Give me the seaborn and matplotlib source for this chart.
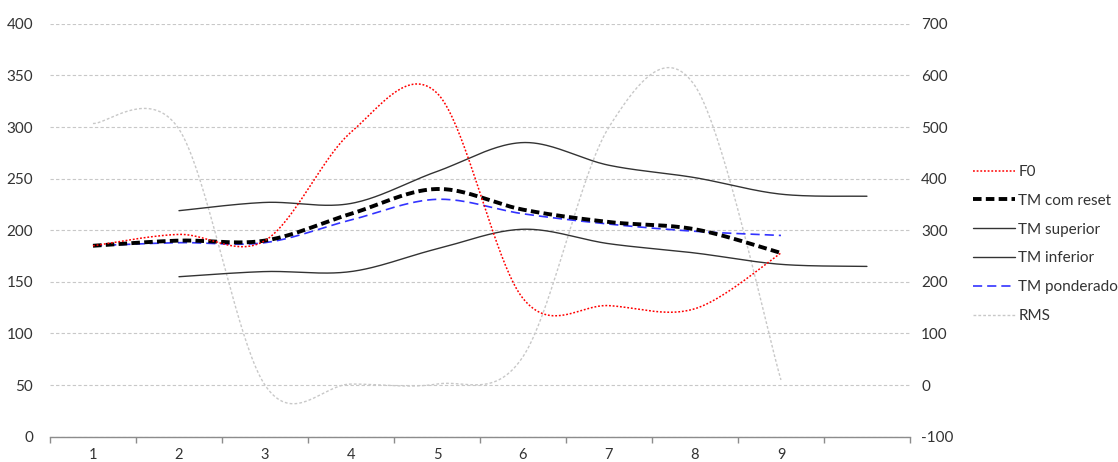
import numpy as np
import pandas as pd
import matplotlib
matplotlib.use("Agg")
import matplotlib.pyplot as plt
import seaborn as sns

# category axis: 9 labelled frames plus one empty slot at the end
categories = ['1', '2', '3', '4', '5', '6', '7', '8', '9', '']

# left axis (Hz)
f0 = [185, 196, 190, 295, 333, 134, 127, 124, 178, None]
tm_reset = [185, 190, 190, 216, 240, 220, 208, 201, 178, None]
tm_superior = [None, 219, 227, 226, 257, 285, 263, 251, 235, 233]
tm_inferior = [None, 155, 160, 160, 182, 201, 187, 178, 167, 165]
tm_ponderado = [185, 188, 188, 210, 230, 216, 206, 199, 195, None]

# right axis
rms = [507, 496, 0, 2, 2, 55, 500, 580, 10, None]

left_ticks = list(range(0, 401, 50))
right_ticks = list(range(-100, 701, 100))


def smooth(values, n=40):
    """Excel-like smoothed line (Catmull-Rom bezier) through the given points."""
    pts = np.array([(i + 1, v) for i, v in enumerate(values) if v is not None], float)
    ext = np.vstack([pts[0], pts, pts[-1]])
    parts = []
    for i in range(len(pts) - 1):
        p0, p1, p2, p3 = ext[i], ext[i + 1], ext[i + 2], ext[i + 3]
        c1 = p1 + (p2 - p0) / 6
        c2 = p2 - (p3 - p1) / 6
        t = np.linspace(0, 1, n, endpoint=(i == len(pts) - 2))[:, None]
        parts.append((1 - t) ** 3 * p1 + 3 * (1 - t) ** 2 * t * c1
                     + 3 * (1 - t) * t ** 2 * c2 + t ** 3 * p2)
    return pd.DataFrame(np.vstack(parts), columns=['x', 'y'])


sns.set_style('white')
plt.rcParams['font.family'] = ['Lato', 'DejaVu Sans']
plt.rcParams['axes.unicode_minus'] = False

fig = plt.figure(figsize=(11.18, 4.62), dpi=100)
ax = fig.add_axes([0.0447, 0.0548, 0.7692, 0.8935])
ax2 = ax.twinx()

line_kw = dict(sort=False, estimator=None, legend=False)
sns.lineplot(data=smooth(rms), x='x', y='y', ax=ax2, color='#c8c8c8', lw=1.0,
             linestyle=(0, (2, 1.5)), **line_kw)
sns.lineplot(data=smooth(tm_superior), x='x', y='y', ax=ax, color='#333333', lw=1.0, **line_kw)
sns.lineplot(data=smooth(tm_inferior), x='x', y='y', ax=ax, color='#333333', lw=1.0, **line_kw)
sns.lineplot(data=smooth(tm_ponderado), x='x', y='y', ax=ax, color='#3333ff', lw=1.2,
             linestyle=(0, (5.5, 3)), **line_kw)
sns.lineplot(data=smooth(tm_reset), x='x', y='y', ax=ax, color='black', lw=2.8,
             linestyle=(0, (2.2, 1.1)), **line_kw)
sns.lineplot(data=smooth(f0), x='x', y='y', ax=ax, color='#ff0000', lw=1.1,
             linestyle=(0, (1.2, 1.2)), **line_kw)

ax.set_zorder(ax2.get_zorder() + 1)
ax.patch.set_visible(False)

ax.set_xlim(0.5, len(categories) + 0.5)
ax.set_ylim(0, 400)
ax2.set_ylim(-100, 700)
ax.set_xticks(range(1, len(categories) + 1))
ax.set_xticklabels(categories)
ax.set_xticks(np.arange(0.5, len(categories) + 1, 1), minor=True)
ax.set_yticks(left_ticks)
ax2.set_yticks(right_ticks)
ax.set_xlabel('')
ax.set_ylabel('')
ax2.set_ylabel('')

ax.tick_params(axis='x', which='major', length=0, pad=8, labelsize=10.5, labelcolor='#333333')
ax.tick_params(axis='x', which='minor', length=4, width=1, color='#8c8c8c', direction='out', bottom=True)
ax.tick_params(axis='y', length=0, pad=12, labelsize=11, labelcolor='#333333')
ax2.tick_params(axis='y', length=0, pad=8, labelsize=11, labelcolor='#333333')

ax.yaxis.grid(True, color='#c8c8c8', linestyle=(0, (3, 2)), lw=0.8)
ax.xaxis.grid(False)
ax2.grid(False)
for a in (ax, ax2):
    for side in ('left', 'right', 'top'):
        a.spines[side].set_visible(False)
ax2.spines['bottom'].set_visible(False)
ax.spines['bottom'].set_color('#8c8c8c')
ax.spines['bottom'].set_linewidth(1)

handles = [
    plt.Line2D([], [], color='#ff0000', lw=1.1, linestyle=(0, (1.2, 1.2))),
    plt.Line2D([], [], color='black', lw=2.8, linestyle=(0, (2.2, 1.1))),
    plt.Line2D([], [], color='#333333', lw=1.0),
    plt.Line2D([], [], color='#333333', lw=1.0),
    plt.Line2D([], [], color='#3333ff', lw=1.2, linestyle=(0, (5.5, 3))),
    plt.Line2D([], [], color='#c8c8c8', lw=1.0, linestyle=(0, (2, 1.5))),
]
labels = ['F0', 'TM com reset', 'TM superior', 'TM inferior', 'TM ponderado', 'RMS']
fig.legend(handles, labels, loc='upper left', bbox_to_anchor=(0.870, 0.643),
           frameon=False, borderpad=0, borderaxespad=0, handlelength=2.8,
           handletextpad=0.2, labelspacing=0.97, fontsize=11, labelcolor='#333333')

fig.savefig('out.png', dpi=100)
